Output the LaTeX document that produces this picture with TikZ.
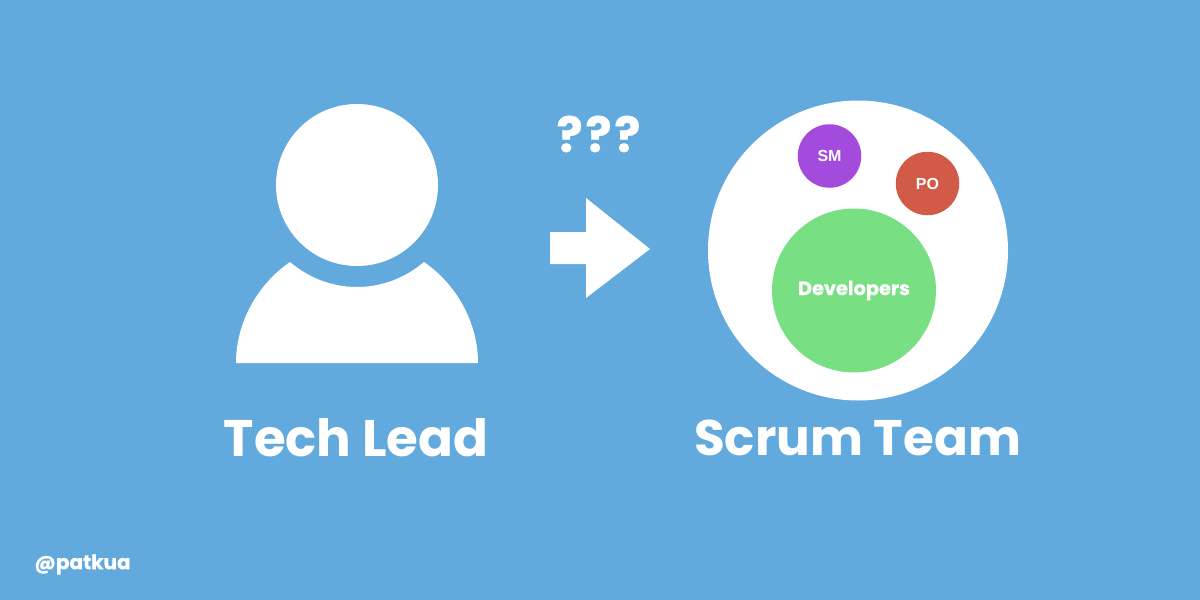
\documentclass[tikz,border=0pt]{standalone}
\usepackage{fontspec}
\setmainfont{Poppins}[BoldFont={Poppins Bold}]
\newfontfamily\helv{Liberation Sans Bold}
\newfontfamily\heavy{Poppins Bold}[FakeBold=0.5]
\definecolor{bgblue}{HTML}{62A9DD}
\definecolor{smpurple}{HTML}{A24BDC}
\definecolor{pored}{HTML}{D25B48}
\definecolor{devgreen}{HTML}{78E083}
\tikzset{
  disc/.style={circle,inner sep=0pt,fill=white},
  member/.style={circle,inner sep=0pt,text=white},
  label/.style={text=white,font=\bfseries,inner sep=0pt,anchor=center},
}
\begin{document}
\begin{tikzpicture}[x=1pt,y=-1pt]
\useasboundingbox (0,0) rectangle (1200,600);
\fill[bgblue] (0,0) rectangle (1200,600);
% person
\node[disc,minimum size=162] (head) at (357,185) {};
\fill[white] (236,363) -- (478,363)
  .. controls (478,322) and (456,284) .. (424,262)
  .. controls (405,278) and (382,287) .. (357,287)
  .. controls (332,287) and (309,278) .. (290,262)
  .. controls (258,284) and (236,322) .. (236,363) -- cycle;
% arrow
\fill[white] (550,232) -- (586,232) -- (586,198) -- (650,249) -- (586,298) -- (586,264) -- (550,264) -- cycle;
% team
\node[disc,minimum size=300] (team) at (858,250.5) {};
\node[member,minimum size=63.5,fill=smpurple,font=\helv\fontsize{16}{16}\selectfont] (sm) at (829.5,156) {SM};
\node[member,minimum size=63.5,fill=pored,font=\helv\fontsize{16}{16}\selectfont] (po) at (927.5,183.5) {PO};
\node[member,minimum size=164,fill=devgreen,font=\heavy\fontsize{19.3}{19}\selectfont] (dev) at (854,290.5) {\raisebox{-1pt}{Developers}};
\node[label,font=\heavy\fontsize{49}{53}\selectfont] (q) at (598.5,134) {?\hspace{2.5pt}?\hspace{2.5pt}?};
\node[label,font=\bfseries\fontsize{51.4}{53}\selectfont] (tl) at (356,437.5) {Tech Lead};
\node[label,font=\bfseries\fontsize{50}{53}\selectfont] (st) at (857.5,437.5) {Scrum Team};
\node[label,font=\heavy\fontsize{20}{20}\selectfont] (h) at (82.5,564.5) {@patkua};
\end{tikzpicture}
\end{document}
